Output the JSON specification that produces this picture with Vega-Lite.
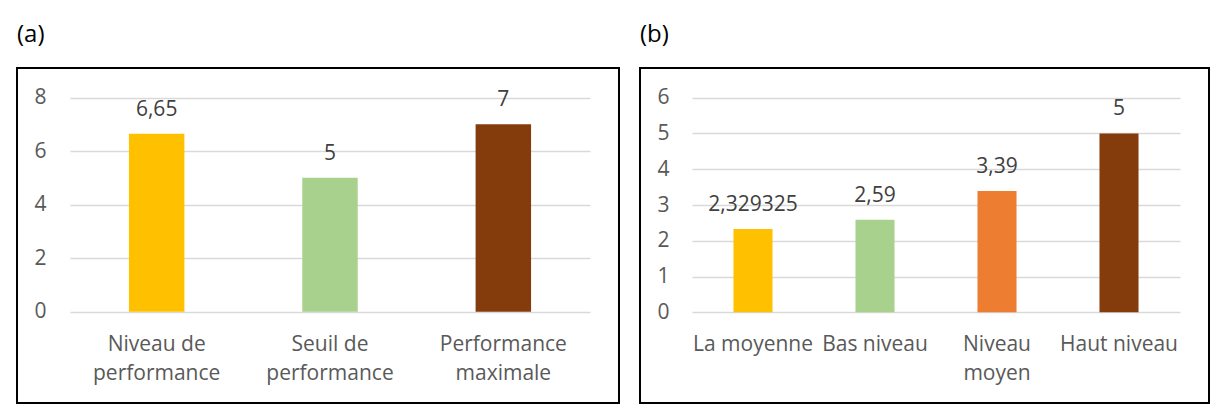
{
  "$schema": "https://vega.github.io/schema/vega-lite/v6.json",
  "padding": {"left": 16, "top": 22, "right": 6, "bottom": 13},
  "background": "white",
  "spacing": 19,
  "config": {
    "locale": {"number": {"decimal": ",", "thousands": " ", "grouping": [3], "currency": ["", " €"]}},
    "view": {"stroke": "#000000", "strokeWidth": 2},
    "font": "Open Sans",
    "title": {"anchor": "start", "font": "Open Sans", "fontSize": 24, "fontWeight": "normal", "color": "#000000", "baseline": "alphabetic", "offset": 21},
    "axis": {"title": null, "domain": false, "ticks": false, "tickSize": 0, "labelFont": "Open Sans", "labelFontSize": 21, "labelColor": "#595959"}
  },
  "resolve": {"scale": {"color": "independent"}},
  "hconcat": [
    {
      "title": {"text": "(a)"},
      "width": 602,
      "height": 335,
      "data": {"values": [
        {"categorie": "Niveau de performance", "valeur": 6.65},
        {"categorie": "Seuil de performance", "valeur": 5},
        {"categorie": "Performance maximale", "valeur": 7}
      ]},
      "encoding": {
        "x": {"field": "categorie", "type": "nominal", "sort": null,
          "scale": {"range": [53, 573], "paddingInner": 0.68, "paddingOuter": 0.34},
          "axis": {"orient": "bottom", "offset": -91.2, "labelPadding": 22, "labelAngle": 0, "labelLimit": 0, "labelLineHeight": 29, "labelBaseline": "top",
            "labelExpr": "[slice(datum.label, 0, lastindexof(datum.label, ' ')), slice(datum.label, lastindexof(datum.label, ' ') + 1)]"}},
        "y": {"field": "valeur", "type": "quantitative",
          "scale": {"domain": [0, 8], "range": [243.8, 29.5], "nice": false},
          "axis": {"values": [0, 2, 4, 6, 8], "offset": -29, "labelPadding": 0, "grid": true, "gridColor": "#D9D9D9", "gridWidth": 1.3}}
      },
      "layer": [
        {"mark": {"type": "bar"},
          "encoding": {"color": {"field": "categorie", "type": "nominal", "legend": null,
            "scale": {"domain": ["Niveau de performance", "Seuil de performance", "Performance maximale"], "range": ["#FFC000", "#A9D18E", "#843C0C"]}}}},
        {"mark": {"type": "text", "baseline": "alphabetic", "dy": -18, "fontSize": 21, "font": "Open Sans", "color": "#404040"},
          "encoding": {"text": {"field": "valeur", "type": "quantitative"}}}
      ]
    },
    {
      "title": {"text": "(b)"},
      "width": 569,
      "height": 335,
      "data": {"values": [
        {"categorie": "La moyenne", "valeur": 2.329325},
        {"categorie": "Bas niveau", "valeur": 2.59},
        {"categorie": "Niveau moyen", "valeur": 3.39},
        {"categorie": "Haut niveau", "valeur": 5}
      ]},
      "encoding": {
        "x": {"field": "categorie", "type": "nominal", "sort": null,
          "scale": {"range": [52, 540], "paddingInner": 0.68, "paddingOuter": 0.34},
          "axis": {"orient": "bottom", "offset": -91.2, "labelPadding": 22, "labelAngle": 0, "labelLimit": 0, "labelLineHeight": 29, "labelBaseline": "top",
            "labelExpr": "datum.label == 'Niveau moyen' ? ['Niveau', 'moyen'] : datum.label"}},
        "y": {"field": "valeur", "type": "quantitative",
          "scale": {"domain": [0, 6], "range": [244.3, 29.7], "nice": false},
          "axis": {"values": [0, 1, 2, 3, 4, 5, 6], "offset": -29, "labelPadding": 0, "grid": true, "gridColor": "#D9D9D9", "gridWidth": 1.3}}
      },
      "layer": [
        {"mark": {"type": "bar"},
          "encoding": {"color": {"field": "categorie", "type": "nominal", "legend": null,
            "scale": {"domain": ["La moyenne", "Bas niveau", "Niveau moyen", "Haut niveau"], "range": ["#FFC000", "#A9D18E", "#ED7D31", "#843C0C"]}}}},
        {"mark": {"type": "text", "baseline": "alphabetic", "dy": -18, "fontSize": 21, "font": "Open Sans", "color": "#404040"},
          "encoding": {"text": {"field": "valeur", "type": "quantitative"}}}
      ]
    }
  ]
}
